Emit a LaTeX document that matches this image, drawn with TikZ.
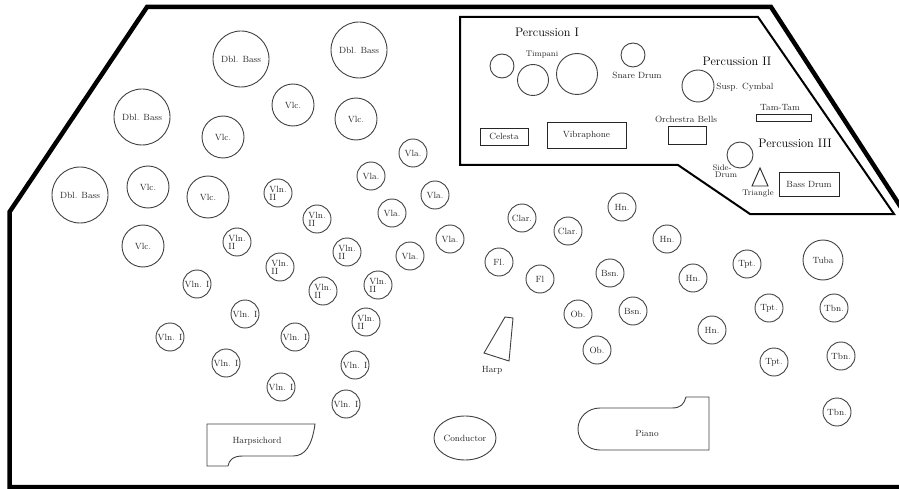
\documentclass[tikz,border=0pt]{standalone}
\usetikzlibrary{shapes.geometric}
\newcommand\fsn{\fontsize{9}{9.6}\selectfont}
\newcommand\fss{\fontsize{8.2}{8.8}\selectfont}
\newcommand\fsh{\fontsize{12.3}{13}\selectfont}
\begin{document}
\begin{tikzpicture}[x=1pt,y=-1pt,
  inst/.style={circle,draw=black!75,line width=0.9pt,inner sep=0pt,font=\fsn,text=black!85},
  sm/.style={inst,minimum size=28pt},
  md/.style={inst,minimum size=42pt},
  lg/.style={inst,minimum size=56pt},
  two/.style={align=left},
  boxi/.style={rectangle,draw=black!85,line width=0.9pt,inner sep=0pt,font=\fsn,text=black!85},
  lbl/.style={inner sep=0pt,font=\fsn,text=black!85},
  slbl/.style={inner sep=0pt,font=\fss,text=black!85},
  head/.style={inner sep=0pt,font=\fsh,text=black},
  shp/.style={draw=black!75,line width=0.9pt}
]
\useasboundingbox (0,0) rectangle (899,489);
\clip (0,0) rectangle (899,489);
% outer stage
\draw[line width=4.5pt,line join=miter] (915,487) -- (9.5,487) -- (9.5,212) -- (147,7) -- (771,7) -- (915,229);
% percussion area
\draw[line width=2pt,line join=miter] (460,17) -- (758,17) -- (894,214) -- (750,214) -- (678,165) -- (460,165) -- cycle;
\node[head] (p1) at (547,32) {Percussion I};
\node[head] (p2) at (737,61) {Percussion II};
\node[head] (p3) at (795,143) {Percussion III};
% percussion I
\node[inst,minimum size=24pt] (timp1) at (502,66) {};
\node[inst,minimum size=31pt] (timp2) at (533,80) {};
\node[inst,minimum size=41pt] (timp3) at (577,74) {};
\node[slbl] (timpl) at (542,55) {Timpani};
\node[inst,minimum size=24pt] (snare) at (633,55) {};
\node[lbl] (snarel) at (637,75) {Snare Drum};
\node[boxi,minimum width=48pt,minimum height=17pt] (cel) at (504,136.5) {Celesta};
\node[boxi,minimum width=79pt,minimum height=26pt] (vib) at (586.5,135) {Vibraphone};
% percussion II
\node[inst,minimum size=32pt] (cym) at (698,86) {};
\node[lbl] (cyml) at (745,87) {Susp. Cymbal};
\node[boxi,minimum width=55pt,minimum height=7pt] (tam) at (783.5,117.5) {};
\node[lbl] (taml) at (780,108) {Tam-Tam};
\node[boxi,minimum width=38pt,minimum height=18pt] (bells) at (687,135) {};
\node[lbl] (bellsl) at (686,119) {Orchestra Bells};
% percussion III
\node[inst,minimum size=26pt] (side) at (740,155) {};
\node[slbl,align=center] (sidel) at (724,171) {\hspace*{-4pt}Side-\\[-1.5pt]\hspace*{4pt}Drum};
\draw[shp,draw=black!85] (760,168) -- (768,186) -- (752,186) -- cycle;
\node[slbl] (tril) at (758,193) {Triangle};
\node[boxi,minimum width=60pt,minimum height=24pt] (bass) at (809,184) {Bass Drum};
% double basses
\node[lg] (db1) at (241,59) {Dbl. Bass};
\node[lg] (db2) at (359,50) {Dbl. Bass};
\node[lg] (db3) at (142,117) {Dbl. Bass};
\node[lg] (db4) at (80,195) {Dbl. Bass};
% cellos
\node[md] (vc1) at (293,105) {Vlc.};
\node[md] (vc2) at (356,119) {Vlc.};
\node[md] (vc3) at (223,137) {Vlc.};
\node[md] (vc4) at (148,187) {Vlc.};
\node[md] (vc5) at (208,197) {Vlc.};
\node[md] (vc6) at (143,246) {Vlc.};
% violas
\node[sm] (va1) at (413,153) {Vla.};
\node[sm] (va2) at (371,176) {Vla.};
\node[sm] (va3) at (435,195) {Vla.};
\node[sm] (va4) at (392,213) {Vla.};
\node[sm] (va5) at (410,256) {Vla.};
\node[sm] (va6) at (450,239) {Vla.};
% violins II
\foreach \nm/\px/\py in {v2a/278/193, v2b/317/219, v2c/237/242, v2d/280/267, v2e/347/252, v2f/323/291, v2g/378/285, v2h/366/322}
  \node[sm,two] (\nm) at (\px,\py) {Vln.\\[-1.5pt]II};
% violins I
\foreach \nm/\px/\py in {v1a/197/284, v1b/245/314, v1c/170/337, v1d/295/337, v1e/226/363, v1f/281/387, v1g/355/365, v1h/346/404}
  \node[sm] (\nm) at (\px,\py) {Vln. I};
% winds
\node[sm] (cl1) at (522,218) {Clar.};
\node[sm] (cl2) at (568,231) {Clar.};
\node[sm] (fl1) at (499,262) {Fl.};
\node[sm] (fl2) at (540,279) {Fl};
\node[sm] (bn1) at (610,273) {Bsn.};
\node[sm] (bn2) at (633,311) {Bsn.};
\node[sm] (ob1) at (578,314) {Ob.};
\node[sm] (ob2) at (597,350) {Ob.};
% brass
\node[sm] (hn1) at (622,207) {Hn.};
\node[sm] (hn2) at (667,239) {Hn.};
\node[sm] (hn3) at (693,278) {Hn.};
\node[sm] (hn4) at (712,330) {Hn.};
\node[sm] (tp1) at (747,264) {Tpt.};
\node[sm] (tp2) at (769,308) {Tpt.};
\node[sm] (tp3) at (774,362) {Tpt.};
\node[inst,minimum size=40pt] (tuba) at (823,260) {Tuba};
\node[sm] (tb1) at (834,308) {Tbn.};
\node[sm] (tb2) at (841,356) {Tbn.};
\node[sm] (tb3) at (837,412) {Tbn.};
% harp
\draw[shp] (505,317) -- (513,318) -- (509,361) -- (484,353) -- cycle;
\node[lbl] (harpl) at (492,370) {Harp};
% conductor
\node[ellipse,draw=black!75,line width=0.9pt,minimum width=62pt,minimum height=44pt,inner sep=0pt,font=\fsn,text=black!85] (cond) at (465,438) {Conductor};
% harpsichord
\draw[shp] (207,424) -- (315,424) .. controls (312,446) and (305,456) .. (293,456) -- (243,456) .. controls (233,456) and (229,460) .. (228,466) -- (207,466) -- cycle;
\node[lbl] (harpsl) at (257,441) {Harpsichord};
% piano
\draw[shp] (709,397) -- (686,397) .. controls (684,404) and (681,408) .. (672,408) -- (600,408) .. controls (588,408) and (578,417) .. (578,429) .. controls (578,441) and (588,450) .. (600,450) -- (709,450) -- cycle;
\node[lbl] (pianol) at (647,433) {Piano};
\end{tikzpicture}
\end{document}
